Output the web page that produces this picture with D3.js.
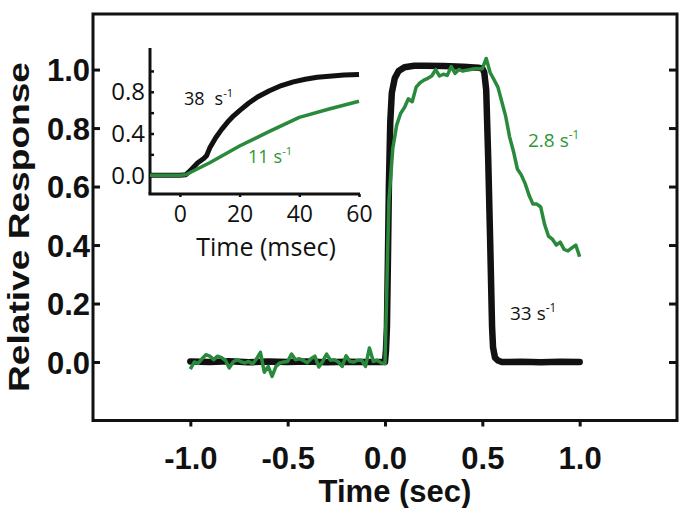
<!DOCTYPE html>
<html><head><meta charset="utf-8">
<script src="https://cdn.jsdelivr.net/npm/d3@7"></script>
<style>body{margin:0;background:#fff}</style>
</head><body>
<svg id="chart" width="687" height="508"></svg>
<script>
// ---------- data ----------
const mainXTicks = [-1.0, -0.5, 0.0, 0.5, 1.0];
const mainYTicks = [0.0, 0.2, 0.4, 0.6, 0.8, 1.0];

const blackTime = [-1.0,-0.9,-0.8,-0.7,-0.6,-0.5,-0.4,-0.3,-0.2,-0.1,0.0,
  0.005,0.01,0.015,0.02,0.027,0.035,0.05,0.07,0.1,0.15,0.2,0.3,0.4,0.48,0.5,
  0.51,0.52,0.53,0.54,0.55,0.555,0.565,0.58,0.6,0.7,0.8,0.9,1.0];
const blackResp = [0.002,0.0,0.003,-0.001,0.002,0.0,0.002,-0.001,0.001,0.0,0.0,
  0.04,0.12,0.35,0.6,0.82,0.92,0.97,0.995,1.008,1.013,1.013,1.012,1.01,1.006,1.004,
  0.99,0.93,0.7,0.42,0.12,0.05,0.015,0.005,0.0,0.001,-0.001,0.001,0.0];

const greenTime = [-1.00,-0.98,-0.96,-0.94,-0.92,-0.90,-0.88,-0.86,-0.84,-0.82,
  -0.80,-0.78,-0.76,-0.74,-0.72,-0.70,-0.68,-0.66,-0.64,-0.62,
  -0.60,-0.58,-0.56,-0.54,-0.52,-0.50,-0.48,-0.46,-0.44,-0.42,
  -0.40,-0.38,-0.36,-0.34,-0.32,-0.30,-0.28,-0.26,-0.24,-0.22,
  -0.20,-0.18,-0.16,-0.14,-0.12,-0.10,-0.08,-0.06,-0.04,-0.02,
  0.00,0.02,0.04,0.06,0.08,0.10,0.12,0.14,0.16,0.18,
  0.20,0.22,0.24,0.26,0.28,0.30,0.32,0.34,0.36,0.38,
  0.40,0.42,0.44,0.46,0.48,0.50,0.52,0.54,0.56,0.58,
  0.60,0.62,0.64,0.66,0.68,0.70,0.72,0.74,0.76,0.78,
  0.80,0.82,0.84,0.86,0.88,0.90,0.92,0.94,0.96,0.98,1.00];
const greenResp = [-0.024,0.0,-0.005,0.011,0.025,0.02,0.008,0.02,0.015,0.006,
  -0.02,0.0,0.008,0.001,-0.003,0.002,-0.007,0.011,0.033,-0.035,
  -0.015,-0.049,-0.015,-0.003,0.0,0.002,0.027,0.008,0.011,0.006,
  -0.003,0.011,0.02,-0.017,0.002,0.027,0.006,0.008,0.0,-0.015,
  0.021,0.002,0.0,0.006,0.006,-0.015,0.048,0.002,0.006,-0.003,
  -0.005,0.55,0.73,0.81,0.85,0.87,0.90,0.89,0.94,0.955,
  0.964,0.97,0.978,1.0,0.978,0.984,0.98,1.01,0.987,1.0,
  0.995,0.998,1.0,1.003,1.003,1.003,1.038,0.99,0.965,0.94,
  0.89,0.84,0.77,0.72,0.66,0.64,0.61,0.57,0.54,0.54,
  0.53,0.47,0.43,0.42,0.40,0.41,0.385,0.38,0.39,0.40,0.36];

const insetXTicks = [0, 20, 40, 60];
const insetYTicks = [0.0, 0.2, 0.4, 0.6, 0.8, 1.0];
const insetYLabels = [0.0, 0.4, 0.8];
const insetBlackTime = [-10,-5,0,2,4,6,8,9,10,12,14,16,18,20,23,26,30,34,38,42,46,50,55,60];
const insetBlackResp = [0,0,0,0.005,0.06,0.12,0.16,0.19,0.26,0.36,0.44,0.51,0.57,0.62,0.69,0.75,0.81,0.86,0.895,0.92,0.94,0.95,0.96,0.965];
const insetGreenTime = [-10,0,2,10,20,30,40,50,60];
const insetGreenResp = [0,0,0.005,0.12,0.28,0.42,0.555,0.635,0.71];

const BLACK = "#111111", GREEN = "#2a8a3c", GREEN_TXT = "#2f9536";

// ---------- main chart ----------
const svg = d3.select("#chart");
const x = d3.scaleLinear().domain([-1.5, 1.5]).range([93, 677]);
const y = d3.scaleLinear().domain([-0.2, 1.19]).range([420.5, 14]);

svg.append("rect").attr("x", x(-1.5)).attr("y", y(1.19))
  .attr("width", x(1.5) - x(-1.5)).attr("height", y(-0.2) - y(1.19))
  .attr("fill", "none").attr("stroke", "#111").attr("stroke-width", 3);

const fmt = d => d.toFixed(1);
const gL = svg.append("g").attr("transform", `translate(${x(-1.5)},0)`)
  .call(d3.axisLeft(y).tickValues(mainYTicks).tickSizeInner(-7).tickSizeOuter(0).tickPadding(4).tickFormat(fmt));
const gR = svg.append("g").attr("transform", `translate(${x(1.5)},0)`)
  .call(d3.axisRight(y).tickValues(mainYTicks).tickSizeInner(-8).tickSizeOuter(0).tickFormat(""));
const gB = svg.append("g").attr("transform", `translate(0,${y(-0.2)})`)
  .call(d3.axisBottom(x).tickValues(mainXTicks).tickSizeInner(6).tickSizeOuter(0).tickPadding(6).tickFormat(fmt));
[gL, gR, gB].forEach(g => {
  g.select(".domain").remove();
  g.selectAll(".tick line").attr("stroke", "#111").attr("stroke-width", 3);
  g.selectAll(".tick text").attr("fill", "#111")
    .style("font-family", "'Liberation Sans', Arial, sans-serif")
    .style("font-weight", "bold").style("font-size", "31px");
});
gL.selectAll(".tick text").attr("x", -3).attr("dy", "0.36em");
gB.selectAll(".tick text").attr("y", 0).attr("dy", null).attr("transform", "translate(0,48.5)");

svg.append("text").attr("x", 395).attr("y", 502).attr("text-anchor", "middle")
  .style("font-family", "'Liberation Sans', Arial, sans-serif").style("font-weight", "bold")
  .style("font-size", "31px").attr("fill", "#111").text("Time (sec)");
svg.append("text").attr("transform", "translate(29,227) rotate(-90)").attr("text-anchor", "middle")
  .attr("textLength", 330).attr("lengthAdjust", "spacingAndGlyphs")
  .style("font-family", "'Liberation Sans', Arial, sans-serif").style("font-weight", "bold")
  .style("font-size", "30px").attr("fill", "#111").text("Relative Response");

const lineMain = d3.line().x(d => x(d[0])).y(d => y(d[1]));
svg.append("path").datum(d3.zip(blackTime, blackResp)).attr("d", lineMain)
  .attr("fill", "none").attr("stroke", BLACK).attr("stroke-width", 6.5)
  .attr("stroke-linejoin", "round").attr("stroke-linecap", "round");
svg.append("path").datum(d3.zip(greenTime, greenResp)).attr("d", lineMain)
  .attr("fill", "none").attr("stroke", GREEN).attr("stroke-width", 3.5)
  .attr("stroke-linejoin", "round");

// ---------- inset ----------
const xi = d3.scaleLinear().domain([-10, 60]).range([150, 359]);
const yi = d3.scaleLinear().domain([-0.18, 1.22]).range([194, 48]);
const gi = svg.append("g");
gi.append("line").attr("x1", xi(-10)).attr("x2", xi(-10)).attr("y1", yi(1.22)).attr("y2", yi(-0.18))
  .attr("stroke", "#111").attr("stroke-width", 3);
gi.append("line").attr("x1", xi(-10) - 1.5).attr("x2", xi(60) + 1).attr("y1", yi(-0.18)).attr("y2", yi(-0.18))
  .attr("stroke", "#111").attr("stroke-width", 3);
const giL = gi.append("g").attr("transform", `translate(${xi(-10)},0)`)
  .call(d3.axisLeft(yi).tickValues(insetYTicks).tickSizeInner(-4).tickSizeOuter(0).tickFormat(""));
const giB = gi.append("g").attr("transform", `translate(0,${yi(-0.18)})`)
  .call(d3.axisBottom(xi).tickValues(insetXTicks).tickSizeInner(3).tickSizeOuter(0).tickPadding(12).tickFormat(d => d));
[giL, giB].forEach(g => {
  g.select(".domain").remove();
  g.selectAll(".tick line").attr("stroke", "#111").attr("stroke-width", 2.5);
});
giB.selectAll(".tick text").attr("fill", "#111").attr("y", 28).attr("dy", null)
  .style("font-family", "'Open Sans', sans-serif").style("font-size", "23px");
gi.selectAll(".ylab").data(insetYLabels).join("text").attr("class", "ylab")
  .attr("x", 145).attr("y", d => yi(d)).attr("dy", "0.36em").attr("text-anchor", "end")
  .style("font-family", "'Open Sans', sans-serif").style("font-size", "24px").attr("fill", "#111")
  .text(d => d.toFixed(1));
gi.append("text").attr("x", 266).attr("y", 255.5).attr("text-anchor", "middle")
  .style("font-family", "'Open Sans', sans-serif").style("font-size", "25px").attr("fill", "#111")
  .text("Time (msec)");

const lineInset = d3.line().x(d => xi(d[0])).y(d => yi(d[1]));
gi.append("path").datum(d3.zip(insetBlackTime, insetBlackResp)).attr("d", lineInset)
  .attr("fill", "none").attr("stroke", BLACK).attr("stroke-width", 5).attr("stroke-linejoin", "round");
gi.append("path").datum(d3.zip(insetGreenTime, insetGreenResp)).attr("d", lineInset)
  .attr("fill", "none").attr("stroke", GREEN).attr("stroke-width", 3.5).attr("stroke-linejoin", "round");

// ---------- rate annotations ----------
function rate(xp, yp, num, gap, color, size) {
  const t = svg.append("text").attr("x", xp).attr("y", yp).attr("fill", color)
    .style("font-family", "'Open Sans', sans-serif").style("font-size", size + "px");
  t.append("tspan").text(num);
  t.append("tspan").attr("dx", gap).text("s");
  t.append("tspan").attr("dy", -size * 0.42).style("font-size", (size * 0.62) + "px").text("-1");
}
rate(184, 105, "38", 10, BLACK, 18);
rate(248, 163, "11", 5, GREEN_TXT, 18);
rate(528, 147, "2.8", 5, GREEN_TXT, 19);
rate(510, 320, "33", 5, BLACK, 19);
</script>
</body></html>
